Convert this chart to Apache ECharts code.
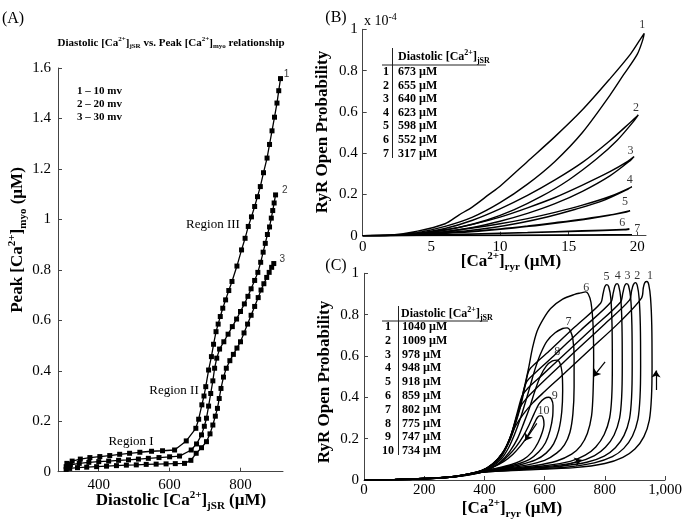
<!DOCTYPE html>
<html><head><meta charset="utf-8">
<script src="https://cdn.jsdelivr.net/npm/echarts@6/dist/echarts.min.js"></script>
<style>html,body{margin:0;padding:0;background:#fff}#c{width:685px;height:529px}</style>
</head><body><div id="c"></div>
<script>
// ---------- Panel A data ----------
const aTicksX = [400, 600, 800];
const aS1 = [[310,0.033],[325,0.042],[348,0.050],[375,0.056],[403,0.060],[431,0.064],[459,0.069],[487,0.073],[516,0.077],[549,0.081],[580,0.083],[614,0.086],[647,0.122],[674,0.172],[682,0.208],[691,0.265],[697,0.300],[702,0.337],[710,0.403],[718,0.456],[724,0.505],[731,0.555],[737,0.585],[743,0.615],[750,0.648],[758,0.681],[767,0.718],[776,0.754],[790,0.815],[803,0.879],[813,0.925],[822,0.972],[831,1.010],[840,1.051],[848,1.090],[856,1.130],[865,1.185],[875,1.243],[882,1.297],[889,1.351],[896,1.405],[903,1.461],[908,1.510],[913,1.558]];
const aS2 = [[308,0.020],[320,0.027],[345,0.033],[372,0.037],[400,0.040],[428,0.042],[456,0.045],[484,0.047],[512,0.050],[540,0.053],[570,0.056],[600,0.059],[628,0.062],[661,0.086],[676,0.110],[690,0.146],[698,0.180],[704,0.212],[710,0.260],[716,0.310],[722,0.360],[727,0.410],[733,0.450],[741,0.486],[753,0.515],[765,0.545],[777,0.575],[789,0.605],[800,0.635],[811,0.665],[821,0.695],[830,0.725],[840,0.758],[849,0.790],[857,0.830],[864,0.870],[870,0.905],[876,0.940],[882,0.970],[887,1.005],[891,1.035],[895,1.065],[899,1.097]];
const aS3 = [[308,0.009],[318,0.013],[340,0.016],[366,0.018],[394,0.020],[422,0.022],[450,0.024],[478,0.026],[506,0.027],[534,0.029],[562,0.030],[590,0.031],[616,0.032],[642,0.033],[660,0.045],[675,0.073],[690,0.095],[704,0.119],[714,0.150],[722,0.185],[729,0.220],[735,0.251],[740,0.290],[745,0.330],[752,0.375],[760,0.410],[770,0.440],[780,0.465],[790,0.490],[800,0.515],[810,0.550],[820,0.585],[830,0.620],[840,0.655],[850,0.690],[858,0.720],[866,0.745],[874,0.770],[881,0.790],[888,0.810],[894,0.825]];
const aEndLabels = ['1', '2', '3'];
const aEndLabelPos = [[930,1.574],[925,1.117],[918,0.843]];
const aLegend = ['1 – 10 mv', '2 – 20 mv', '3 – 30 mv'];
const aRegions = ['Region I', 'Region II', 'Region III'];

// ---------- Panel B data (Po in units of 1e-4) ----------
const bTicksX = [0, 5, 10, 15, 20];
const bLoop1 = [[0,0],[2,0.003],[4,0.022],[6,0.058],[7,0.1],[8,0.14],[9.2,0.2],[10,0.24],[12,0.36],[14,0.48],[16,0.61],[18,0.76],[19.5,0.88],[20.2,0.95],[20.5,0.98],[20.4,0.95],[20,0.88],[19,0.78],[18,0.68],[16,0.5],[14,0.36],[12,0.25],[10,0.16],[8,0.09],[6,0.045],[4,0.015],[2,0.002],[0,0]];
const bLoop2 = [[0,0],[2,0.002],[4,0.012],[6,0.035],[8,0.075],[10,0.13],[12,0.195],[14,0.27],[16,0.355],[18,0.46],[19.5,0.55],[20.07,0.585],[19.8,0.56],[18.5,0.46],[17,0.37],[15,0.27],[13,0.19],[11,0.125],[9,0.075],[7,0.04],[5,0.017],[3,0.005],[0,0]];
const bLoop3 = [[0,0],[2,0.002],[4,0.01],[6,0.028],[8,0.055],[10,0.09],[12,0.135],[14,0.185],[16,0.245],[18,0.31],[19.3,0.36],[19.76,0.383],[19.5,0.365],[18,0.29],[16,0.215],[14,0.155],[12,0.108],[10,0.07],[8,0.04],[6,0.02],[4,0.007],[0,0]];
const bLoop4 = [[0,0],[2,0.001],[4,0.008],[6,0.02],[8,0.037],[10,0.058],[12,0.083],[14,0.113],[16,0.148],[18,0.19],[19.6,0.237],[19.3,0.225],[17.5,0.17],[15.5,0.128],[13.5,0.092],[11.5,0.063],[9.5,0.04],[7.5,0.023],[5.5,0.011],[3.5,0.004],[0,0]];
const bLoop5 = [[0,0],[2,0.001],[4,0.006],[6,0.013],[8,0.022],[10,0.033],[12,0.047],[14,0.063],[16,0.08],[18,0.1],[19.47,0.121],[19.2,0.115],[17,0.088],[15,0.068],[13,0.051],[11,0.037],[9,0.025],[7,0.015],[5,0.008],[3,0.003],[0,0]];
const bLoop6 = [[0,0],[4,0.003],[8,0.009],[12,0.016],[16,0.024],[19.42,0.031],[19,0.028],[15,0.02],[11,0.013],[7,0.006],[3,0.001],[0,0]];
const bLoop7 = [[0,0],[10,0.002],[19.6,0.005],[10,0.001],[0,0]];
const bLabels = ['1','2','3','4','5','6','7'];
const bLabelPos = [[20.36,1.02],[19.9,0.62],[19.5,0.41],[19.45,0.27],[19.1,0.165],[18.9,0.063],[20.0,0.031]];
const bTable = ['673 µM','655 µM','640 µM','623 µM','598 µM','552 µM','317 µM'];

// ---------- Panel C data ----------
const cLoop1 = [[0,0],[100,0.002],[200,0.007],[300,0.016],[400,0.038],[530,0.048],[700,0.06],[800,0.08],[860,0.11],[900,0.15],[930,0.21],[948,0.29],[955,0.4],[957,0.55],[956,0.75],[952,0.88],[946,0.945],[940,0.96],[933,0.955],[928,0.93],[922,0.88],[850,0.765],[750,0.63],[650,0.495],[600,0.428],[560,0.372],[530,0.32],[505,0.265],[485,0.2],[460,0.13],[425,0.075],[385,0.042],[300,0.016],[200,0.006],[100,0.002],[0,0]];
const cLoop2 = [[0,0],[100,0.002],[200,0.007],[300,0.016],[400,0.039],[520,0.05],[670,0.062],[765,0.083],[825,0.113],[863,0.153],[892,0.213],[910,0.293],[917,0.4],[919,0.55],[918,0.75],[914,0.88],[908,0.94],[902,0.955],[895,0.945],[889,0.915],[882,0.87],[800,0.755],[700,0.62],[620,0.51],[570,0.44],[540,0.395],[520,0.355],[505,0.295],[487,0.21],[462,0.135],[427,0.077],[387,0.043],[300,0.016],[200,0.006],[100,0.002],[0,0]];
const cLoop3 = [[0,0],[100,0.002],[200,0.007],[300,0.017],[400,0.04],[510,0.052],[640,0.065],[740,0.086],[798,0.116],[835,0.156],[864,0.216],[882,0.296],[889,0.4],[891,0.55],[890,0.75],[886,0.88],[879,0.94],[873,0.95],[866,0.94],[860,0.905],[852,0.86],[760,0.735],[660,0.6],[590,0.505],[545,0.445],[525,0.405],[510,0.33],[490,0.225],[465,0.14],[430,0.08],[389,0.044],[300,0.016],[200,0.006],[100,0.002],[0,0]];
const cLoop4 = [[0,0],[100,0.002],[200,0.007],[300,0.017],[400,0.04],[500,0.053],[620,0.067],[710,0.088],[766,0.118],[802,0.158],[831,0.218],[849,0.298],[856,0.4],[858,0.55],[857,0.75],[853,0.88],[846,0.94],[841,0.95],[834,0.94],[828,0.905],[820,0.86],[720,0.725],[630,0.6],[570,0.52],[540,0.475],[525,0.4],[510,0.31],[492,0.23],[467,0.145],[432,0.082],[391,0.045],[300,0.017],[200,0.006],[100,0.002],[0,0]];
const cLoop5 = [[0,0],[100,0.002],[200,0.007],[300,0.017],[400,0.041],[490,0.054],[600,0.069],[685,0.09],[735,0.12],[770,0.16],[798,0.22],[816,0.3],[823,0.4],[825,0.55],[824,0.75],[820,0.88],[813,0.935],[807,0.945],[800,0.935],[794,0.9],[786,0.855],[700,0.74],[620,0.63],[570,0.565],[548,0.53],[536,0.46],[521,0.36],[505,0.28],[487,0.2],[465,0.14],[430,0.08],[392,0.046],[300,0.017],[200,0.006],[100,0.002],[0,0]];
const cLoop6 = [[0,0],[100,0.002],[200,0.007],[300,0.017],[400,0.042],[480,0.055],[570,0.07],[640,0.092],[690,0.125],[720,0.165],[742,0.225],[756,0.31],[761,0.42],[763,0.58],[761,0.75],[754,0.86],[745,0.9],[736,0.91],[720,0.905],[700,0.898],[660,0.875],[620,0.83],[596,0.78],[575,0.72],[560,0.64],[548,0.55],[533,0.45],[518,0.36],[500,0.27],[480,0.18],[455,0.11],[420,0.065],[380,0.038],[300,0.016],[200,0.006],[100,0.002],[0,0]];
const cLoop7 = [[0,0],[100,0.002],[200,0.007],[300,0.017],[400,0.043],[470,0.056],[540,0.072],[600,0.095],[640,0.13],[666,0.17],[684,0.23],[694,0.32],[698,0.45],[698,0.6],[694,0.68],[686,0.72],[675,0.736],[660,0.733],[635,0.712],[608,0.672],[587,0.612],[569,0.54],[553,0.46],[537,0.38],[520,0.3],[500,0.22],[480,0.155],[455,0.1],[420,0.06],[380,0.036],[300,0.016],[200,0.006],[100,0.002],[0,0]];
const cLoop8 = [[0,0],[100,0.002],[200,0.007],[300,0.017],[400,0.044],[460,0.057],[520,0.074],[570,0.097],[605,0.13],[630,0.175],[647,0.24],[657,0.33],[660,0.43],[658,0.52],[651,0.565],[642,0.58],[626,0.576],[606,0.552],[586,0.502],[568,0.432],[550,0.35],[532,0.28],[510,0.2],[485,0.14],[455,0.09],[420,0.055],[380,0.034],[300,0.015],[200,0.006],[100,0.002],[0,0]];
const cLoop9 = [[0,0],[100,0.002],[200,0.007],[300,0.017],[400,0.045],[450,0.057],[505,0.075],[550,0.1],[580,0.135],[603,0.18],[618,0.24],[627,0.31],[628,0.36],[623,0.39],[614,0.4],[600,0.395],[582,0.37],[565,0.32],[548,0.265],[530,0.215],[505,0.16],[480,0.118],[450,0.08],[420,0.056],[380,0.033],[300,0.015],[200,0.006],[100,0.002],[0,0]];
const cLoop10 = [[0,0],[100,0.002],[200,0.007],[300,0.017],[400,0.046],[445,0.058],[490,0.075],[530,0.1],[558,0.135],[578,0.18],[592,0.23],[598,0.27],[596,0.295],[590,0.31],[583,0.31],[575,0.3],[566,0.275],[555,0.243],[540,0.205],[520,0.165],[495,0.125],[465,0.09],[430,0.063],[390,0.042],[300,0.016],[200,0.006],[100,0.002],[0,0]];
const cLabels = ['1','2','3','4','5','6','7','8','9','10'];
const cLabelPos = [[950,0.99],[908,0.99],[875,0.99],[843,0.99],[806,0.984],[738,0.932],[679,0.766],[642,0.62],[634,0.406],[596,0.335]];
const cArrows = [[[970,0.435],[970,0.53]],[[801,0.572],[762,0.5]],[[574,0.274],[535,0.19]],[[651,0.064],[723,0.097]]];
const cTableNums = ['1','2','3','4','5','6','7','8','9','10'];
const cTable = ['1040 µM','1009 µM','978 µM','948 µM','918 µM','859 µM','802 µM','775 µM','747 µM','734 µM'];

// ---------- styles ----------
const SERIF = 'Liberation Serif';
function rich(size, bold, subSize) {
  const w = bold ? 'bold' : 'normal';
  const s = subSize || Math.round(size * 0.65);
  return {
    n: {fontFamily: SERIF, fontWeight: w, fontSize: size, lineHeight: Math.round(size * 1.3), verticalAlign: 'middle', fill: '#000', color: '#000'},
    sp: {fontFamily: SERIF, fontWeight: w, fontSize: s, lineHeight: s, verticalAlign: 'top', fill: '#000', color: '#000'},
    sb: {fontFamily: SERIF, fontWeight: w, fontSize: s, lineHeight: s, verticalAlign: 'bottom', fill: '#000', color: '#000'}
  };
}
function txt(x, y, text, size, bold, opts) {
  opts = opts || {};
  return {
    type: 'text', x: x, y: y, rotation: opts.rot || 0, silent: true,
    style: {text: text, rich: rich(size, bold, opts.sub), align: opts.align || 'center', verticalAlign: 'middle',
      fontFamily: SERIF, fontSize: size, fontWeight: bold ? 'bold' : 'normal', fill: '#000'}
  };
}
function hline(x1, y1, x2, y2) {
  return {type: 'line', silent: true, shape: {x1: x1, y1: y1, x2: x2, y2: y2}, style: {stroke: '#222', lineWidth: 1}};
}
const axisCommon = {
  axisLine: {show: true, lineStyle: {color: '#444', width: 1}},
  axisTick: {show: true, inside: true, length: 4, lineStyle: {color: '#444'}},
  splitLine: {show: false},
  axisLabel: {color: '#000', fontFamily: SERIF, fontSize: 15}
};
function xAx(grid, min, max, extra) {
  return Object.assign({type: 'value', gridIndex: grid, min: min, max: max}, JSON.parse(JSON.stringify(axisCommon)), extra || {});
}

const graphics = [];
graphics.push(txt(13, 19, '{n|(A)}', 16, false));
graphics.push(txt(336, 18, '{n|(B)}', 16, false));
graphics.push(txt(336, 266, '{n|(C)}', 16, false));
graphics.push(txt(171, 43, '{n|Diastolic [Ca}{sp|2+}{n|]}{sb|jSR}{n| vs. Peak [Ca}{sp|2+}{n|]}{sb|myo}{n| relationship}', 11, true, {sub: 7}));
aLegend.forEach((t, i) => graphics.push(txt(77, 91 + 13 * i, '{n|' + t + '}', 11, true, {align: 'left'})));
const regionPx = [[131, 442], [174, 391], [213, 225]];
aRegions.forEach((t, i) => graphics.push(txt(regionPx[i][0], regionPx[i][1], '{n|' + t + '}', 13, false)));
// axis titles
graphics.push(txt(181, 501, '{n|Diastolic [Ca}{sp|2+}{n|]}{sb|jSR}{n| (µM)}', 17, true, {sub: 11}));
graphics.push(txt(18, 240, '{n|Peak [Ca}{sp|2+}{n|]}{sb|myo}{n| (µM)}', 17, true, {sub: 11, rot: Math.PI / 2}));
graphics.push(txt(511, 262, '{n|[Ca}{sp|2+}{n|]}{sb|ryr}{n| (µM)}', 17, true, {sub: 11}));
graphics.push(txt(323, 132, '{n|RyR Open Probability}', 17, true, {rot: Math.PI / 2}));
graphics.push(txt(512, 509, '{n|[Ca}{sp|2+}{n|]}{sb|ryr}{n| (µM)}', 17, true, {sub: 11}));
graphics.push(txt(325, 382, '{n|RyR Open Probability}', 17, true, {rot: Math.PI / 2}));
graphics.push(txt(364, 21, '{n|x 10}{sp|-4}', 14, false, {align: 'left', sub: 10}));
// table B
graphics.push(txt(398, 57, '{n|Diastolic [Ca}{sp|2+}{n|]}{sb|jSR}', 12, true, {align: 'left', sub: 8}));
graphics.push(hline(382, 65, 486, 65));
graphics.push(hline(392.5, 48, 392.5, 158));
bTable.forEach((t, i) => {
  graphics.push(txt(386, 72 + 13.6 * i, '{n|' + (i + 1) + '}', 12, true));
  graphics.push(txt(398, 72 + 13.6 * i, '{n|' + t + '}', 12, true, {align: 'left'}));
});
// table C
graphics.push(txt(401, 314, '{n|Diastolic [Ca}{sp|2+}{n|]}{sb|jSR}', 12, true, {align: 'left', sub: 8}));
graphics.push(hline(382, 321, 488, 321));
graphics.push(hline(398.5, 306, 398.5, 455));
cTable.forEach((t, i) => {
  graphics.push(txt(388, 327 + 13.8 * i, '{n|' + cTableNums[i] + '}', 12, true));
  graphics.push(txt(402, 327 + 13.8 * i, '{n|' + t + '}', 12, true, {align: 'left'}));
});

// ---------- series ----------
const series = [];
[aS1, aS2, aS3].forEach(d => series.push({
  type: 'line', xAxisIndex: 0, yAxisIndex: 0, data: d, symbol: 'rect', symbolSize: 5, showSymbol: true,
  itemStyle: {color: '#000'}, lineStyle: {color: '#000', width: 1.3}, animation: false, silent: true
}));
series.push({
  type: 'scatter', xAxisIndex: 0, yAxisIndex: 0, symbolSize: 0, clip: false, silent: true,
  data: aEndLabelPos.map((p, i) => ({value: p, name: aEndLabels[i]})),
  label: {show: true, position: 'inside', formatter: '{b}', fontFamily: 'Liberation Sans', fontSize: 10, color: '#000'}
});
[bLoop1, bLoop2, bLoop3, bLoop4, bLoop5, bLoop6, bLoop7].forEach(d => series.push({
  type: 'line', xAxisIndex: 1, yAxisIndex: 1, data: d, showSymbol: false, smooth: 0.3,
  lineStyle: {color: '#000', width: 1.4}, silent: true
}));
series.push({
  type: 'scatter', xAxisIndex: 1, yAxisIndex: 1, symbolSize: 0, clip: false, silent: true,
  data: bLabelPos.map((p, i) => ({value: p, name: bLabels[i]})),
  label: {show: true, position: 'inside', formatter: '{b}', fontFamily: SERIF, fontSize: 12, color: '#000'}
});
[cLoop1, cLoop2, cLoop3, cLoop4, cLoop5, cLoop6, cLoop7, cLoop8, cLoop9, cLoop10].forEach(d => series.push({
  type: 'line', xAxisIndex: 2, yAxisIndex: 2, data: d, showSymbol: false, smooth: 0.3,
  lineStyle: {color: '#000', width: 1.4}, silent: true
}));
series.push({
  type: 'scatter', xAxisIndex: 2, yAxisIndex: 2, symbolSize: 0, clip: false, silent: true,
  data: cLabelPos.map((p, i) => ({value: p, name: cLabels[i]})),
  label: {show: true, position: 'inside', formatter: '{b}', fontFamily: SERIF, fontSize: 12, color: '#000'}
});
series.push({
  type: 'lines', coordinateSystem: 'cartesian2d', xAxisIndex: 2, yAxisIndex: 2, silent: true,
  symbol: ['none', 'arrow'], symbolSize: 7,
  lineStyle: {color: '#000', width: 1.2, opacity: 1},
  data: cArrows.map(c => ({coords: c}))
});

const chart = echarts.init(document.getElementById('c'), null, {renderer: 'canvas'});
chart.setOption({
  animation: false,
  backgroundColor: '#fff',
  grid: [
    {left: 58, top: 68, width: 225, height: 403.7, containLabel: false, outerBoundsMode: 'none'},
    {left: 362.7, top: 29.3, width: 283.3, height: 206.4, containLabel: false, outerBoundsMode: 'none'},
    {left: 364, top: 273.3, width: 301, height: 206.7, containLabel: false, outerBoundsMode: 'none'}
  ],
  xAxis: [
    xAx(0, 285, 920, {axisLabel: Object.assign({}, axisCommon.axisLabel, {customValues: aTicksX, margin: 6}), axisTick: Object.assign({}, axisCommon.axisTick, {customValues: aTicksX})}),
    xAx(1, 0, 20.63, {axisLabel: Object.assign({}, axisCommon.axisLabel, {customValues: bTicksX, margin: 4}), axisTick: Object.assign({}, axisCommon.axisTick, {customValues: bTicksX})}),
    xAx(2, 0, 1000, {interval: 200, axisLabel: Object.assign({}, axisCommon.axisLabel, {margin: 3})})
  ],
  yAxis: [
    xAx(0, 0, 1.6, {interval: 0.2, axisLabel: Object.assign({}, axisCommon.axisLabel, {margin: 7})}),
    xAx(1, 0, 1, {interval: 0.2, axisLabel: Object.assign({}, axisCommon.axisLabel, {margin: 5})}),
    xAx(2, 0, 1, {interval: 0.2, axisLabel: Object.assign({}, axisCommon.axisLabel, {margin: 5})})
  ],
  graphic: graphics,
  series: series
});
</script></body></html>
